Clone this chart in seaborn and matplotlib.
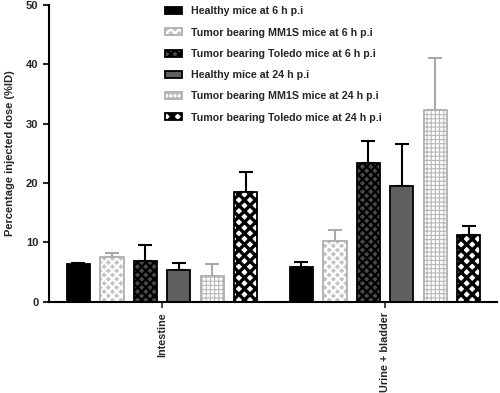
import matplotlib
matplotlib.use("Agg")
import matplotlib.pyplot as plt
import numpy as np
import pandas as pd
import seaborn as sns

organs = ["Intestine", "Urine + bladder"]
groups = [
    "Healthy mice at 6 h p.i",
    "Tumor bearing MM1S mice at 6 h p.i",
    "Tumor bearing Toledo mice at 6 h p.i",
    "Healthy mice at 24 h p.i",
    "Tumor bearing MM1S mice at 24 h p.i",
    "Tumor bearing Toledo mice at 24 h p.i",
]
# mean %ID per group, [Intestine, Urine + bladder]
healthy_6h = [6.3, 5.9]
mm1s_6h = [7.6, 10.3]
toledo_6h = [6.9, 23.4]
healthy_24h = [5.3, 19.6]
mm1s_24h = [4.3, 32.3]
toledo_24h = [18.5, 11.3]
# upper error (SD)
healthy_6h_err = [0.3, 0.8]
mm1s_6h_err = [0.6, 1.8]
toledo_6h_err = [2.6, 3.7]
healthy_24h_err = [1.2, 7.0]
mm1s_24h_err = [2.1, 8.8]
toledo_24h_err = [3.3, 1.5]

means = [healthy_6h, mm1s_6h, toledo_6h, healthy_24h, mm1s_24h, toledo_24h]
errs = [healthy_6h_err, mm1s_6h_err, toledo_6h_err, healthy_24h_err, mm1s_24h_err, toledo_24h_err]

rows = []
for g, m in zip(groups, means):
    for o, v in zip(organs, m):
        rows.append({"organ": o, "group": g, "dose": v})
df = pd.DataFrame(rows)

sns.set_style("ticks")
plt.rcParams["font.family"] = ["Liberation Sans", "DejaVu Sans"]
plt.rcParams["font.weight"] = "bold"
plt.rcParams["hatch.linewidth"] = 1.6

fig = plt.figure(figsize=(5.0, 3.93), dpi=100)
ax = fig.add_axes([0.098, 0.232, 0.896, 0.755])

sns.barplot(data=df, x="organ", y="dose", hue="group", hue_order=groups,
            order=organs, errorbar=None, width=0.9, gap=0.3, ax=ax, legend=False)

faces = ["black", "#c4c4c4", "#4a4a4a", "#606060", "white", "white"]
edges = ["black", "#b0b0b0", "black", "black", "#b0b0b0", "black"]
hatch_cols = ["black", "white", "black", "black", "#b8b8b8", "black"]
hatches = [None, "xxxx", "xxxx", None, "++++", "xxx"]
hatch_lw = [1.6, 1.6, 1.6, 1.6, 0.8, 2.4]
err_cols = ["black", "#a8a8a8", "black", "black", "#a8a8a8", "black"]

bar_conts = list(ax.containers)
for i, cont in enumerate(bar_conts):
    xs = []
    for p in cont.patches:
        p.set_facecolor(faces[i])
        p.set_edgecolor(edges[i])
        p.set_linewidth(1.3)
        if hatches[i]:
            p.set_hatch(hatches[i])
            p._hatch_color = matplotlib.colors.to_rgba(hatch_cols[i])
            p._hatch_linewidth = hatch_lw[i]
        p.set_zorder(2)
        xs.append(p.get_x() + p.get_width() / 2)
    ax.errorbar(xs, means[i], yerr=[np.zeros(2), errs[i]], fmt="none",
                ecolor=err_cols[i], elinewidth=1.5, capsize=5, capthick=1.5, zorder=1)

handles = [cont.patches[0] for cont in bar_conts]
leg = ax.legend(handles, groups, loc="upper left", bbox_to_anchor=(0.25, 1.01),
                frameon=False, fontsize=7.7, handlelength=1.6, handleheight=0.6,
                handletextpad=0.8, labelspacing=1.05, borderaxespad=0)
for h, lw in zip(leg.legend_handles, hatch_lw):
    h._hatch_linewidth = lw

ax.set_ylim(0, 50)
ax.set_xlim(-0.507, 1.502)
ax.set_yticks([0, 10, 20, 30, 40, 50])
ax.set_xlabel("")
ax.set_ylabel("Percentage injected dose (%ID)", fontsize=8, fontweight="bold", labelpad=8)
ax.tick_params(axis="x", labelrotation=90, labelsize=7.8, length=4, width=1.2)
ax.tick_params(axis="y", labelsize=8, length=4, width=1.5)
for lab in ax.get_xticklabels() + ax.get_yticklabels():
    lab.set_fontweight("bold")
for s in ["left", "bottom"]:
    ax.spines[s].set_linewidth(1.5)
    ax.spines[s].set_color("black")
sns.despine(ax=ax)

fig.savefig("out.png", dpi=100)
